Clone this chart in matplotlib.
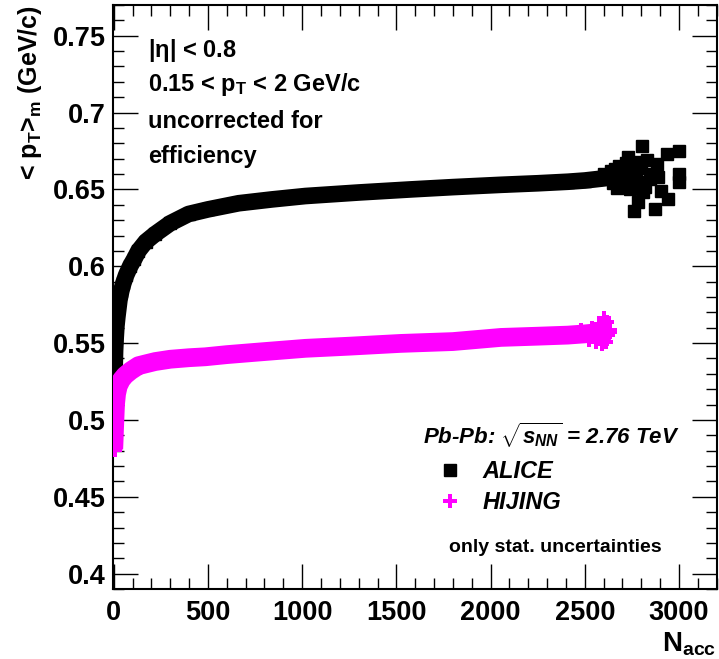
import matplotlib
matplotlib.use("Agg")
import matplotlib.pyplot as plt
from matplotlib.lines import Line2D
from matplotlib.ticker import MultipleLocator, FuncFormatter

plt.rcParams['font.family'] = ['Liberation Sans', 'DejaVu Sans']
plt.rcParams['font.weight'] = 'bold'
plt.rcParams['mathtext.fontset'] = 'custom'
plt.rcParams['mathtext.rm'] = 'Liberation Sans:bold'
plt.rcParams['mathtext.it'] = 'Liberation Sans:italic:bold'
plt.rcParams['mathtext.bf'] = 'Liberation Sans:bold'
plt.rcParams['mathtext.default'] = 'rm'

# ALICE (black squares) - main band
alice_n = [0, 1, 2, 3, 5, 7, 10, 14, 19, 25, 30, 40, 51, 65, 87, 110, 131, 170, 220,
           300, 397, 500, 663, 840, 1017, 1300, 1576, 1800, 2055, 2250, 2410, 2500, 2587, 2640]
alice_y = [0.488, 0.497, 0.508, 0.522, 0.535, 0.545, 0.553, 0.561, 0.567, 0.573, 0.578,
           0.584, 0.589, 0.594, 0.600, 0.605, 0.610, 0.616, 0.621, 0.628, 0.634, 0.637,
           0.641, 0.6435, 0.6457, 0.648, 0.650, 0.6515, 0.653, 0.654, 0.655, 0.6558, 0.657, 0.658]
# ALICE - scattered points at high N_acc
alice_tail_n = [2600, 2620, 2640, 2650, 2660, 2670, 2680, 2690, 2700, 2710, 2720, 2728, 2740,
                2746, 2750, 2759, 2765, 2770, 2782, 2790, 2800, 2803, 2810, 2817, 2830, 2845,
                2860, 2870, 2883, 2888, 2906, 2938, 2941, 2998, 3000, 3000]
alice_tail_y = [0.660, 0.659, 0.662, 0.654, 0.663, 0.651, 0.665, 0.652, 0.662, 0.657, 0.667,
                0.671, 0.650, 0.6645, 0.658, 0.636, 0.668, 0.661, 0.642, 0.655, 0.664, 0.678,
                0.648, 0.6515, 0.669, 0.657, 0.660, 0.6375, 0.6667, 0.658, 0.6488, 0.6732,
                0.6435, 0.6753, 0.6602, 0.6547]

# HIJING (magenta crosses)
hijing_n = [0, 2, 4, 6, 8, 10, 15, 24, 40, 60, 90, 131, 170, 220, 300, 400, 486, 600, 750,
            1017, 1250, 1523, 1800, 2055, 2250, 2410, 2500, 2587, 2630]
hijing_y = [0.481, 0.487, 0.494, 0.500, 0.506, 0.511, 0.517, 0.522, 0.526, 0.529, 0.532,
            0.5353, 0.5365, 0.538, 0.5395, 0.5405, 0.5411, 0.5425, 0.544, 0.5466, 0.548,
            0.5498, 0.551, 0.5537, 0.5545, 0.5552, 0.556, 0.557, 0.558]
hijing_tail_n = [2480, 2520, 2540, 2560, 2575, 2590, 2600, 2610, 2620, 2625]
hijing_tail_y = [0.5585, 0.552, 0.560, 0.5505, 0.5625, 0.5495, 0.5665, 0.551, 0.564, 0.5555]

fig = plt.figure(figsize=(7.19, 6.59), dpi=100)
ax = fig.add_axes([113/719, 1-589/659, (716.7-113)/719, (589-5)/659])

MAG = '#FF00FF'
# ALICE band
ax.plot(alice_n, alice_y, color='black', lw=12, solid_capstyle='butt', zorder=2)
ax.plot(alice_n, alice_y, ls='', marker='s', ms=8, color='black', zorder=2)
ax.plot(alice_tail_n, alice_tail_y, ls='', marker='s', ms=8.5, color='black', zorder=2)
# HIJING band
ax.plot(hijing_n, hijing_y, color=MAG, lw=13.5, solid_capstyle='butt', zorder=3)
ax.plot(hijing_n, hijing_y, ls='', marker='P', ms=11, color=MAG, mew=0, zorder=3)
ax.plot(hijing_tail_n, hijing_tail_y, ls='', marker='P', ms=10, color=MAG, mew=0, zorder=3)

ax.set_xlim(-4, 3200)
ax.set_ylim(0.39, 0.77)
ax.xaxis.set_major_locator(MultipleLocator(500))
ax.xaxis.set_minor_locator(MultipleLocator(100))
ax.yaxis.set_major_locator(MultipleLocator(0.05))
ax.yaxis.set_minor_locator(MultipleLocator(0.01))
ax.tick_params(which='both', direction='in', top=True, right=True, width=1.0, colors='black')
ax.tick_params(which='major', length=18, labelsize=19.5, pad=5)
ax.tick_params(which='minor', length=8)
ax.tick_params(axis='x', which='major', pad=8)
ax.xaxis.set_major_formatter(FuncFormatter(lambda v, p: f"{v:g}"))
ax.yaxis.set_major_formatter(FuncFormatter(lambda v, p: f"{v:g}"))
for s in ax.spines.values():
    s.set_linewidth(1.5)

# axis titles
fig.text(30/719, 1-5/659, r'< p$_{T}$>$_{m}$ (GeV/c)', rotation=90, ha='center', va='top',
         fontsize=18, fontweight='bold')
fig.text(716/719, 1-652/659, r'N$_{acc}$', ha='right', va='baseline', fontsize=20, fontweight='bold')

# annotations
for txt, yp in [(r'|$\eta$| < 0.8', 50), (r'0.15 < p$_{T}$ < 2 GeV/c', 84),
                ('uncorrected for', 122), ('efficiency', 157)]:
    fig.text(148/719, 1-yp/659, txt, ha='left', va='center', fontsize=17, fontweight='bold')

fig.text(423/719, 1-435/659, r'Pb-Pb: $\sqrt{\mathit{s}_{\mathit{NN}}}$ = 2.76 TeV', ha='left', va='center',
         fontsize=16, fontweight='bold', style='italic')
fig.text(449/719, 1-547/659, 'only stat. uncertainties', ha='left', va='center',
         fontsize=14, fontweight='bold')

handles = [Line2D([], [], ls='', marker='s', ms=8, color='black'),
           Line2D([], [], ls='', marker='P', ms=10, color=MAG, mew=0)]
leg = ax.legend(handles, ['ALICE', 'HIJING'], loc='upper left',
                bbox_to_anchor=(426/719, 1-448/659), bbox_transform=fig.transFigure,
                frameon=False, prop={'size': 17, 'weight': 'bold', 'style': 'italic'},
                handletextpad=0.9, labelspacing=0.35, borderpad=0, handlelength=1.0)

fig.savefig('out.png', dpi=100)
